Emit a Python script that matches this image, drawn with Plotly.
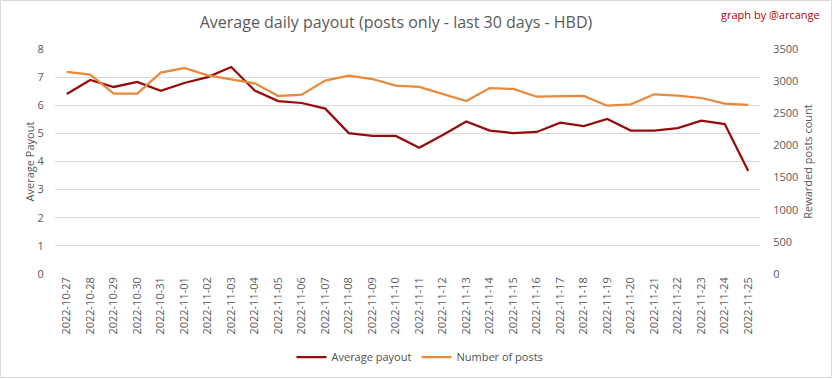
import plotly.graph_objects as go

dates = ["2022-10-27", "2022-10-28", "2022-10-29", "2022-10-30", "2022-10-31",
         "2022-11-01", "2022-11-02", "2022-11-03", "2022-11-04", "2022-11-05",
         "2022-11-06", "2022-11-07", "2022-11-08", "2022-11-09", "2022-11-10",
         "2022-11-11", "2022-11-12", "2022-11-13", "2022-11-14", "2022-11-15",
         "2022-11-16", "2022-11-17", "2022-11-18", "2022-11-19", "2022-11-20",
         "2022-11-21", "2022-11-22", "2022-11-23", "2022-11-24", "2022-11-25"]

average_payout = [6.40, 6.90, 6.65, 6.83, 6.51, 6.79, 7.00, 7.36, 6.52, 6.15,
                  6.08, 5.88, 5.01, 4.91, 4.91, 4.49, 4.94, 5.42, 5.10, 5.01,
                  5.05, 5.38, 5.26, 5.51, 5.10, 5.10, 5.19, 5.45, 5.33, 3.66]

number_of_posts = [3143, 3101, 2805, 2805, 3132, 3204, 3091, 3023, 2966, 2769,
                   2790, 3008, 3085, 3033, 2930, 2909, 2795, 2691, 2893, 2878,
                   2758, 2769, 2769, 2618, 2639, 2795, 2774, 2738, 2649, 2629]

FONT = "Open Sans, sans-serif"
GREY = "#595959"
RED = "#960C0C"
ORANGE = "#E8893C"

fig = go.Figure()
fig.add_trace(go.Scatter(x=dates, y=average_payout, name="Average payout",
                         mode="lines", line=dict(color=RED, width=2.25)))
fig.add_trace(go.Scatter(x=dates, y=number_of_posts, name="Number of posts",
                         mode="lines", line=dict(color=ORANGE, width=2.25),
                         yaxis="y2"))

W, H = 833, 379
ml, mr, mt, mb = 55, 73, 49, 105
pw, ph = W - ml - mr, H - mt - mb

def px(x):
    return (x - ml) / pw

def py(y):
    return (H - mb - y) / ph

fig.update_layout(
    width=W, height=H,
    margin=dict(l=ml, r=mr, t=mt, b=mb, autoexpand=False),
    paper_bgcolor="white", plot_bgcolor="white",
    font=dict(family=FONT, color=GREY, size=11),
    title=dict(text="Average daily payout (posts only - last 30 days - HBD)",
               x=px(396), xref="paper", xanchor="center", y=1 - 22 / H, yanchor="middle",
               font=dict(family=FONT, size=16, color=GREY)),
    xaxis=dict(type="category", range=[-0.5, 29.5], tickangle=-90,
               showgrid=False, showline=False, ticks="", zeroline=False,
               automargin=False, tickfont=dict(size=11, color=GREY)),
    yaxis=dict(range=[0, 8], dtick=1, showgrid=True, gridcolor="#D9D9D9",
               gridwidth=1, zeroline=False, showline=False, automargin=False,
               ticks="outside", ticklen=8, tickcolor="rgba(0,0,0,0)",
               title=dict(text="Average Payout", font=dict(size=11, color=GREY), standoff=0),
               tickfont=dict(size=11, color=GREY)),
    yaxis2=dict(range=[0, 3500], dtick=500, overlaying="y", side="right",
                showgrid=False, zeroline=False, showline=False, automargin=False,
                ticks="outside", ticklen=10, tickcolor="rgba(0,0,0,0)",
                title=dict(text="Rewarded posts count", font=dict(size=11, color=GREY), standoff=6),
                tickfont=dict(size=11, color=GREY)),
    legend=dict(orientation="h", x=px(420), xanchor="center", y=py(357), yanchor="middle",
                font=dict(size=11, color="#505050"), bgcolor="rgba(0,0,0,0)"),
    showlegend=True,
)

fig.add_annotation(text="graph by @arcange", xref="paper", yref="paper",
                   x=px(822), y=py(14), xanchor="right", yanchor="middle",
                   showarrow=False, font=dict(family=FONT, size=11, color="#C00000"))

fig.add_shape(type="rect", xref="paper", yref="paper",
              x0=px(0.5), x1=px(W - 1.5), y0=py(H - 1.5), y1=py(0.5),
              line=dict(color="#D9D9D9", width=1), fillcolor="rgba(0,0,0,0)",
              layer="below")

fig.write_html("out.html", config={"displayModeBar": False},
               post_script="document.body.style.margin='0';document.body.style.overflow='hidden';")
